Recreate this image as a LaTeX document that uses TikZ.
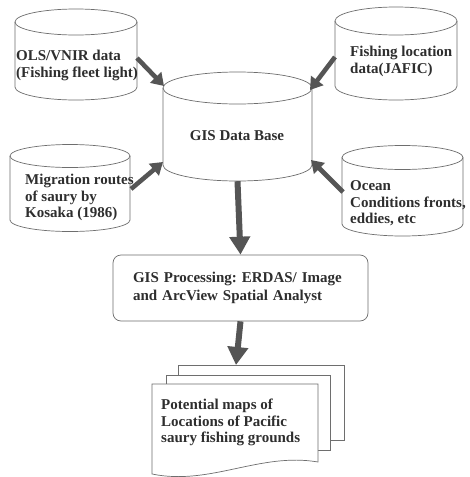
\documentclass[tikz,border=0pt]{standalone}
\usepackage{fontspec}
\setmainfont{Liberation Serif}
\usetikzlibrary{arrows.meta}
\definecolor{edge}{HTML}{6E6E6E}
\definecolor{arr}{HTML}{555555}
\definecolor{ink}{HTML}{2E2E2E}
\tikzset{
  outline/.style={draw=edge, line width=0.7pt},
  lbl/.style={font=\bfseries\frenchspacing\fontsize{15}{16.5}\selectfont, text=ink, inner sep=0pt, align=left, anchor=west},
  fatarrow/.style={draw=arr, line width=4.6pt, -{Triangle[length=12pt,width=15pt]}},
  bigarrow/.style={draw=arr, line width=6pt, -{Triangle[length=18pt,width=20pt]}},
  procbox/.style={outline, rounded corners=8pt, minimum width=255pt, minimum height=66pt, text width=215pt, inner xsep=20pt, inner ysep=0pt, align=left, font=\bfseries\frenchspacing\fontsize{15}{17.5}\selectfont, text=ink},
  docsheet/.style={outline, fill=white},
}
% name, cx, y of top ellipse centre, y of bottom ellipse centre, rx, ry
\newcommand\dbcyl[6]{%
  \draw[outline, fill=white] ({#2-#5},#3) -- ({#2-#5},#4) arc[start angle=180, end angle=0, x radius=#5, y radius=#6] -- ({#2+#5},#3);
  \draw[outline] (#2,#3) ellipse[x radius=#5, y radius=#6];
  \node[inner sep=0pt, minimum width={2*#5}, minimum height={#4-#3+2*#6}] (#1) at (#2,{(#3+#4)/2}) {};
}
\begin{document}
\begin{tikzpicture}[x=1pt,y=-1pt]
\useasboundingbox (0,0) rectangle (470,477);
\fill[white] (0,0) rectangle (470,477);

% cylinders
\dbcyl{ols}{76}{22}{87}{61}{13}
\dbcyl{fish}{396}{21}{86}{61}{14}
\dbcyl{gis}{237.5}{88}{165}{74.5}{16}
\dbcyl{migr}{70}{156}{220}{60}{11.5}
\dbcyl{ocean}{402.5}{157.5}{224}{60.5}{12}

% cylinder texts
\node[lbl] (olst) at (16,65.5) {OLS/VNIR data\\(Fishing fleet light)};
\node[lbl] (fisht) at (350,61.5) {Fishing location\\data(JAFIC)};
\node[lbl, anchor=center] (gist) at (237,136) {GIS Data Base};
\node[lbl] (migrt) at (25,197.5) {Migration routes\\of saury by\\Kosaka (1986)};
\node[lbl] (oceant) at (350,203.5) {Ocean\\Conditions fronts,\\eddies, etc};

% processing box
\node[procbox] (proc) at (240.5,288) {GIS Processing: ERDAS/ Image\\and ArcView Spatial Analyst};

% documents
\draw[docsheet] (178,365) rectangle (344,440);
\draw[docsheet] (166,375) rectangle (330,450);
\draw[docsheet] (152,384) -- (318,384) -- (318,462) .. controls (260,452) and (210,486) .. (152,474) -- cycle;
\node[lbl] (maps) at (161,422.5) {Potential maps of\\Locations of Pacific\\saury fishing grounds};
\coordinate (doctop) at (236,365);

% arrow end points
\coordinate (a1s) at (137,58);  \coordinate (a1e) at (164,86);
\coordinate (a2s) at (335,57);  \coordinate (a2e) at (310,90);
\coordinate (a3s) at (131,189); \coordinate (a3e) at (163,162);
\coordinate (a4s) at (343,192); \coordinate (a4e) at (311,160);

\draw[fatarrow] (a1s) -- (a1e);
\draw[fatarrow] (a2s) -- (a2e);
\draw[fatarrow] (a3s) -- (a3e);
\draw[fatarrow] (a4s) -- (a4e);
\draw[bigarrow] (gis.south) -- (proc.north);
\draw[bigarrow] (proc.south) -- (doctop);
\end{tikzpicture}
\end{document}
